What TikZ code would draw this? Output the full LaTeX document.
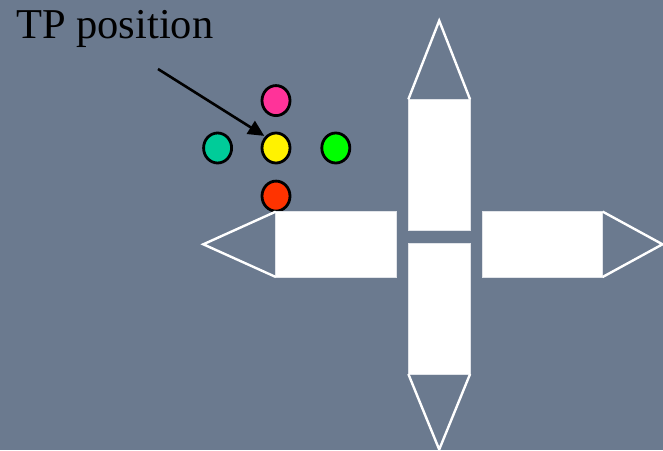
\documentclass[tikz,border=0pt]{standalone}
\usepackage{fontspec}
\setmainfont{Liberation Serif}
\usetikzlibrary{arrows.meta,shapes.geometric,positioning}
\definecolor{slate}{HTML}{6B7A8F}
\definecolor{tppink}{HTML}{FF3399}
\definecolor{tpteal}{HTML}{00CC99}
\definecolor{tpgreen}{HTML}{00FF00}
\definecolor{tpred}{HTML}{FF3300}

\begin{document}
\begin{tikzpicture}[x=1pt, y=-1pt,
  spot/.style={ellipse, draw=black, line width=2.8pt, minimum width=28pt, minimum height=30pt, inner sep=0pt},
  arm/.style={fill=white, draw=white!80!slate, line width=0.6pt, inner sep=0pt, outer sep=0pt},
  tipline/.style={color=white, line width=2.4pt, line join=miter}]
%
\fill[slate] (0,0) rectangle (663,450);
\useasboundingbox (0,0) rectangle (663,450);
% Label
\node[anchor=base west, inner sep=0pt, font=\fontsize{42.5}{50}\selectfont] (label) at (16,38) {TP position};
% Spots
\node[spot, fill=yellow] (yellow) at (276,148) {};
\node[spot, fill=tppink, above=14.6pt of yellow] (pink) {};
\node[spot, fill=tpteal, left=27.6pt of yellow] (teal) {};
\node[spot, fill=tpgreen, right=29pt of yellow] (green) {};
\node[spot, fill=tpred, below=15.3pt of yellow] (red) {};
% Arrow
\coordinate (tail) at (158,69);
\draw[color=black, line width=2.6pt, -{Triangle[length=16pt, width=15pt]}, shorten >=1pt] (tail) -- (yellow.north west);
% Arms
\node[arm, minimum width=121pt, minimum height=65.3pt] (westarm) at (336.2,244.3) {};
\node[arm, minimum width=120pt, minimum height=65.3pt] (eastarm) at (542.7,244.3) {};
\node[arm, minimum width=61.7pt, minimum height=130.7pt] (northarm) at (439.2,164.7) {};
\node[arm, minimum width=61.7pt, minimum height=130.7pt] (southarm) at (439.2,308.7) {};
% Tips
\coordinate (westtip) at (203.3,244.3);
\coordinate (easttip) at (662.5,244.3);
\coordinate (northtip) at (439.2,20.7);
\coordinate (southtip) at (439.2,449.5);
\draw[tipline] (westarm.north west) -- (westtip) -- (westarm.south west);
\draw[tipline] (eastarm.north east) -- (easttip) -- (eastarm.south east);
\draw[tipline] (northarm.north west) -- (northtip) -- (northarm.north east);
\draw[tipline] (southarm.south west) -- (southtip) -- (southarm.south east);
\end{tikzpicture}
\end{document}
